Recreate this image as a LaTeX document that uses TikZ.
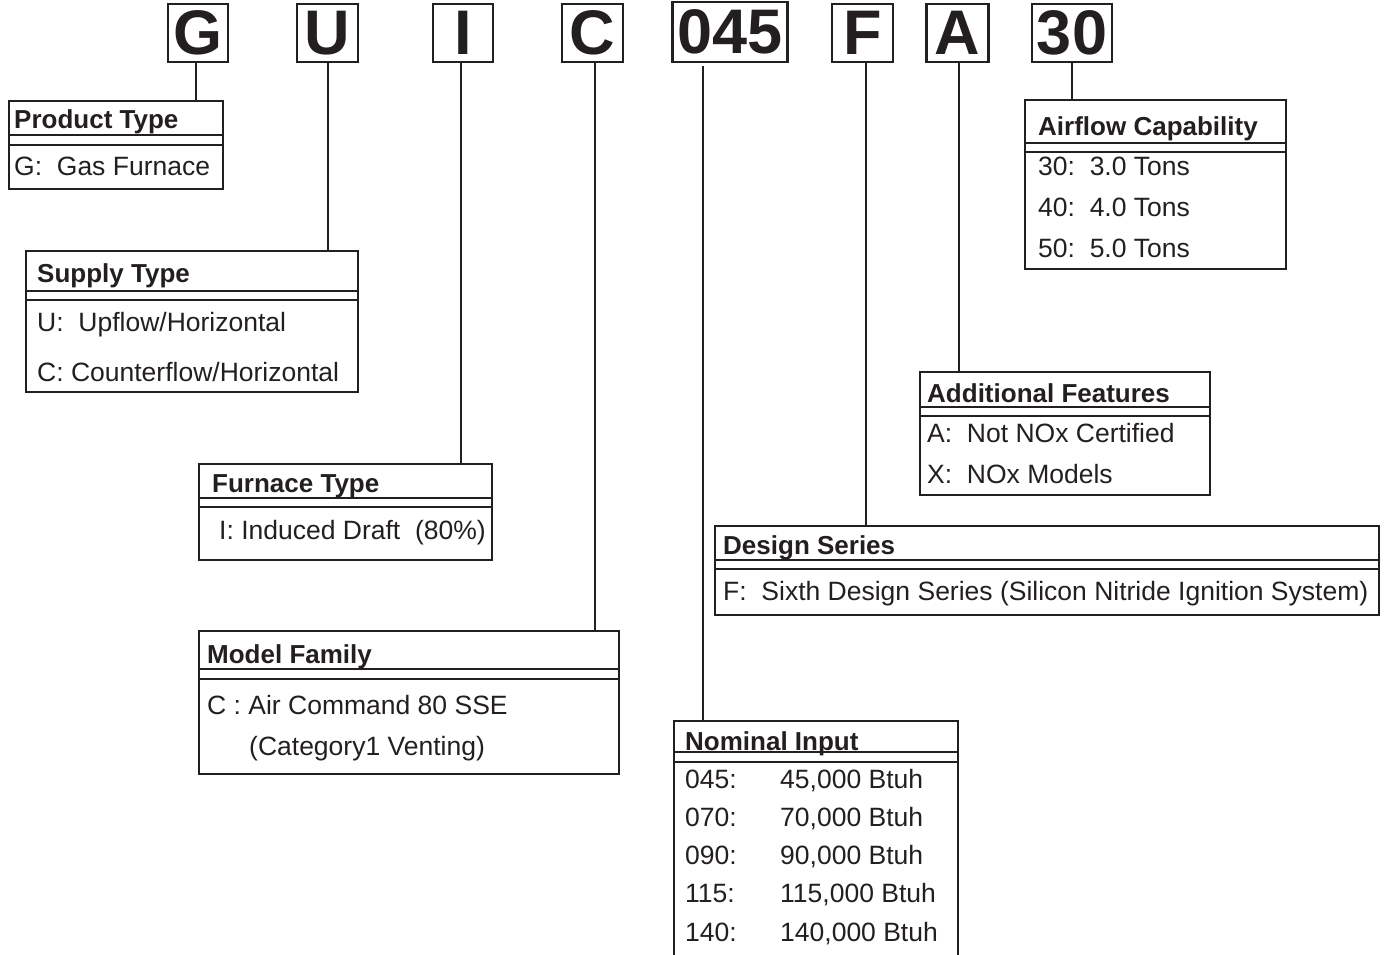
\documentclass[tikz,border=0pt]{standalone}
\usepackage{fontspec}
\setmainfont{Liberation Sans}
\definecolor{ink}{HTML}{231F20}

\begin{document}
\begin{tikzpicture}[x=1pt,y=-1pt,color=ink]
      \tikzset{codebox/.style={draw, line width=2.2pt, inner sep=0pt, minimum height=58pt, font=\fontsize{63}{63}\selectfont\bfseries},
        infobox/.style={draw, line width=2.2pt, anchor=north west, inner sep=0pt},
        head/.style={anchor=base west, inner sep=0pt, font=\fontsize{26}{30}\selectfont\bfseries},
        item/.style={anchor=base west, inner sep=0pt, font=\fontsize{26.5}{30}\selectfont},
        link/.style={line width=2pt},
        rule/.style={line width=1.2pt}}
      \useasboundingbox (0,0) rectangle (1385,955);
      % code letters
      \node[codebox, minimum width=60pt] (g) at (198,33) {G};
      \node[codebox, minimum width=61pt] (u) at (327.5,33) {U};
      \node[codebox, minimum width=60pt] (i) at (463,33) {I};
      \node[codebox, minimum width=61pt] (c) at (592.5,33) {C};
      \node[codebox, minimum width=115pt, minimum height=60pt] (num) at (730,32) {045};
      \node[codebox, minimum width=61pt] (f) at (862.5,33) {F};
      \node[codebox, minimum width=62pt] (a) at (957.5,33) {A};
      \node[codebox, minimum width=80pt] (cap) at (1072,33) {30};
      % legend boxes
      \node[infobox, minimum width=214pt, minimum height=88pt] (prod) at (8,100) {};
      \node[infobox, minimum width=332pt, minimum height=141pt] (supp) at (25,250) {};
      \node[infobox, minimum width=293pt, minimum height=96pt] (furn) at (198,463) {};
      \node[infobox, minimum width=420pt, minimum height=143pt] (fam) at (198,630) {};
      \node[infobox, minimum width=284pt, minimum height=238pt] (nom) at (673,720) {};
      \node[infobox, minimum width=664pt, minimum height=89pt] (ser) at (714,525) {};
      \node[infobox, minimum width=290pt, minimum height=123pt] (feat) at (919,371) {};
      \node[infobox, minimum width=261pt, minimum height=169pt] (air) at (1024,99) {};
      % double rules under the headings
      \draw[rule] ([yshift=-35pt]prod.north west) -- ([yshift=-35pt]prod.north east);
      \draw[rule] ([yshift=-45pt]prod.north west) -- ([yshift=-45pt]prod.north east);
      \draw[rule] ([yshift=-41pt]supp.north west) -- ([yshift=-41pt]supp.north east);
      \draw[rule] ([yshift=-50pt]supp.north west) -- ([yshift=-50pt]supp.north east);
      \draw[rule] ([yshift=-35pt]furn.north west) -- ([yshift=-35pt]furn.north east);
      \draw[rule] ([yshift=-44pt]furn.north west) -- ([yshift=-44pt]furn.north east);
      \draw[rule] ([yshift=-39pt]fam.north west) -- ([yshift=-39pt]fam.north east);
      \draw[rule] ([yshift=-49pt]fam.north west) -- ([yshift=-49pt]fam.north east);
      \draw[rule] ([yshift=-32pt]nom.north west) -- ([yshift=-32pt]nom.north east);
      \draw[rule] ([yshift=-42pt]nom.north west) -- ([yshift=-42pt]nom.north east);
      \draw[rule] ([yshift=-35pt]ser.north west) -- ([yshift=-35pt]ser.north east);
      \draw[rule] ([yshift=-44pt]ser.north west) -- ([yshift=-44pt]ser.north east);
      \draw[rule] ([yshift=-36pt]feat.north west) -- ([yshift=-36pt]feat.north east);
      \draw[rule] ([yshift=-45pt]feat.north west) -- ([yshift=-45pt]feat.north east);
      \draw[rule] ([yshift=-44pt]air.north west) -- ([yshift=-44pt]air.north east);
      \draw[rule] ([yshift=-53pt]air.north west) -- ([yshift=-53pt]air.north east);
      % texts
      \node[head] (prodh) at (14,129) {Product Type};
      \node[item] (prodg) at (14,175.5) {G:\ \ Gas Furnace};
      \node[head] (supph) at (37,282) {Supply Type};
      \node[item] (suppu) at (37,331) {U:\ \ Upflow/Horizontal};
      \node[item] (suppc) at (37,381) {C: Counterflow/Horizontal};
      \node[head] (furnh) at (212,492) {Furnace Type};
      \node[item] (furni) at (219,539) {I: Induced Draft\ \ (80\%)};
      \node[head] (famh) at (207,663) {Model Family};
      \node[item] (famc) at (207,714) {C : Air Command 80 SSE};
      \node[item] (famv) at (249,755) {(Category1 Venting)};
      \node[head] (nomh) at (685,750) {Nominal Input};
      \node[item] (nomca) at (685,788) {045:};
      \node[item] (nomva) at (780,788) {45,000 Btuh};
      \node[item] (nomcb) at (685,826) {070:};
      \node[item] (nomvb) at (780,826) {70,000 Btuh};
      \node[item] (nomcc) at (685,864) {090:};
      \node[item] (nomvc) at (780,864) {90,000 Btuh};
      \node[item] (nomcd) at (685,902) {115:};
      \node[item] (nomvd) at (780,902) {115,000 Btuh};
      \node[item] (nomce) at (685,941) {140:};
      \node[item] (nomve) at (780,941) {140,000 Btuh};
      \node[head] (serh) at (723,554) {Design Series};
      \node[item] (serf) at (723,600) {F:\ \ Sixth Design Series (Silicon Nitride Ignition System)};
      \node[head] (feath) at (927,402) {Additional Features};
      \node[item] (feata) at (927,442) {A:\ \ Not NOx Certified};
      \node[item] (featx) at (927,483) {X:\ \ NOx Models};
      \node[head] (airh) at (1038,136) {Airflow Capability};
      \node[item] (airc) at (1038,176) {30:\ \ 3.0 Tons};
      \node[item] (aird) at (1038,216) {40:\ \ 4.0 Tons};
      \node[item] (aire) at (1038,257) {50:\ \ 5.0 Tons};
      % leader lines
      \draw[link] ([xshift=-2pt]g.south) -- ([xshift=-2pt]g.south |- prod.north);
      \draw[link] (u.south) -- (u.south |- supp.north);
      \draw[link] ([xshift=-2pt]i.south) -- ([xshift=-2pt]i.south |- furn.north);
      \draw[link] ([xshift=2.5pt]c.south) -- ([xshift=2.5pt]c.south |- fam.north);
      \draw[link, shorten <=3pt] ([xshift=-27pt]num.south) -- ([xshift=-27pt]num.south |- nom.north);
      \draw[link] ([xshift=3.5pt]f.south) -- ([xshift=3.5pt]f.south |- ser.north);
      \draw[link] ([xshift=1.5pt]a.south) -- ([xshift=1.5pt]a.south |- feat.north);
      \draw[link] (cap.south) -- (cap.south |- air.north);
    \end{tikzpicture}
\end{document}
